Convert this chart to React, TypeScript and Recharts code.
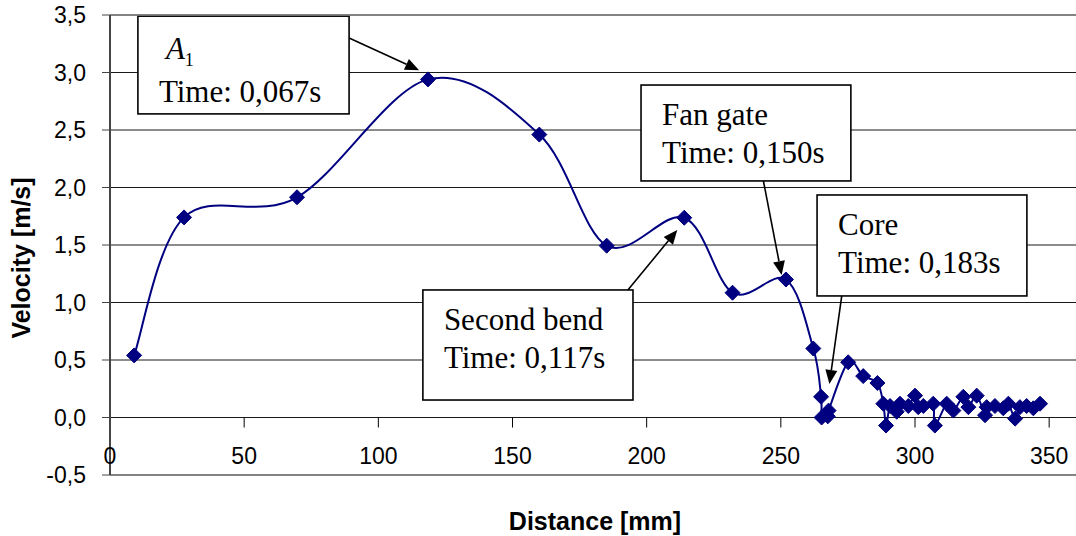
import React from 'react';
import {
  LineChart, Line, XAxis, YAxis, CartesianGrid, ReferenceLine, ReferenceArea, Customized,
} from 'recharts';

// ---------- data ----------
const distance = [
  9, 27.6, 69.7, 118.5, 160, 185.1, 214, 232, 251.9, 262.1,
  265, 265.2, 267.5, 267.8, 275.1, 280.7, 286, 288.2, 289.2, 290.7,
  293.2, 294.4, 297.5, 300, 301.2, 303.1, 306.8, 307.4, 311.8, 314.3,
  318, 319.9, 323, 326.1, 326.7, 329.8, 332.9, 334.8, 337.3, 339.1,
  341.6, 344.1, 346.6,
];
const velocity = [
  0.54, 1.74, 1.915, 2.94, 2.46, 1.494, 1.737, 1.085, 1.2, 0.6,
  0.18, 0.0, 0.01, 0.06, 0.48, 0.36, 0.3, 0.12, -0.07, 0.1,
  0.05, 0.12, 0.1, 0.19, 0.09, 0.1, 0.12, -0.07, 0.12, 0.06,
  0.18, 0.09, 0.19, 0.02, 0.09, 0.1, 0.08, 0.12, -0.01, 0.09,
  0.1, 0.08, 0.12,
];
const xTicks = [0, 50, 100, 150, 200, 250, 300, 350];
const yTicks = [-0.5, 0, 0.5, 1, 1.5, 2, 2.5, 3, 3.5];
const xTitle = 'Distance [mm]';
const yTitle = 'Velocity [m/s]';

// annotation texts (data-unit anchors for boxes and arrows)
const annotations = [
  { title: 'A', sub: '1', time: 'Time: 0,067s', box: [10.4, 89.1, 2.64, 3.49], arrow: [[89.1, 3.3], [115.2, 3.02]] },
  { title: 'Fan gate', sub: '', time: 'Time: 0,150s', box: [197.9, 276.1, 2.057, 2.891], arrow: [[243.5, 2.057], [250.3, 1.239]] },
  { title: 'Core', sub: '', time: 'Time: 0,183s', box: [263.5, 341.7, 1.057, 1.935], arrow: [[272.7, 1.057], [268.1, 0.291]] },
  { title: 'Second bend', sub: '', time: 'Time: 0,117s', box: [116.6, 194.9, 0.152, 1.109], arrow: [[193.0, 1.109], [211.4, 1.63]] },
];

const rows = distance.map((d, i) => ({ x: d, v: velocity[i] }));

// ---------- layout ----------
const W = 1076;
const H = 536;
const PLOT_TOP = 15;
const PLOT_BOTTOM = 475;
const Y_MIN = -0.5;
const Y_MAX = 3.5;
const ZERO_Y = PLOT_TOP + ((PLOT_BOTTOM - PLOT_TOP) * (Y_MAX - 0)) / (Y_MAX - Y_MIN);
const SANS = '"Liberation Sans", Arial, Helvetica, sans-serif';
const SERIF = '"Liberation Serif", "Times New Roman", Times, serif';
const NAVY = '#000080';

// Excel-like smoothed line (Catmull-Rom through all points)
function excelSmooth(context: any) {
  let pts: number[][] = [];
  return {
    areaStart() {},
    areaEnd() {},
    lineStart() { pts = []; },
    lineEnd() {
      const n = pts.length;
      if (n === 0) return;
      context.moveTo(pts[0][0], pts[0][1]);
      for (let i = 0; i < n - 1; i++) {
        const p0 = pts[i > 0 ? i - 1 : 0];
        const p1 = pts[i];
        const p2 = pts[i + 1];
        const p3 = pts[i + 2 < n ? i + 2 : n - 1];
        context.bezierCurveTo(
          p1[0] + (p2[0] - p0[0]) / 6, p1[1] + (p2[1] - p0[1]) / 6,
          p2[0] - (p3[0] - p1[0]) / 6, p2[1] - (p3[1] - p1[1]) / 6,
          p2[0], p2[1],
        );
      }
    },
    point(x: number, y: number) { pts.push([+x, +y]); },
  };
}

const Diamond = (props: any) => {
  const { cx, cy, index } = props;
  if (cx == null || cy == null) return <g key={`d-${index}`} />;
  const r = 7.5;
  return (
    <polygon
      key={`d-${index}`}
      points={`${cx},${cy - r} ${cx + r},${cy} ${cx},${cy + r} ${cx - r},${cy}`}
      fill={NAVY}
      stroke={NAVY}
      strokeWidth={1}
    />
  );
};

const XTick = (props: any) => {
  const { x, payload } = props;
  return (
    <g>
      {payload.value !== 0 && (
        <line x1={x} x2={x} y1={ZERO_Y} y2={ZERO_Y + 10} stroke="#000" strokeWidth={1} />
      )}
      <text x={x} y={ZERO_Y + 46} textAnchor="middle" fontFamily={SANS} fontSize={23} fill="#000">
        {payload.value}
      </text>
    </g>
  );
};

const makeBoxShape = (a: any) => (props: any) => {
  const { x, y, width, height } = props;
  if (x == null) return <g />;
  const hasSub = !!a.sub;
  const line1 = hasSub ? 43 : 40;
  const line2 = hasSub ? 86 : 78;
  return (
    <g>
      <rect x={x} y={y} width={width} height={height} fill="#fff" stroke="#000" strokeWidth={1.6} />
      <text x={x + (hasSub ? 28 : 21)} y={y + line1} fontFamily={SERIF} fontSize={31} fill="#000">
        {hasSub ? (
          <>
            <tspan fontStyle="italic">{a.title}</tspan>
            <tspan fontSize={18} dy={7}>{a.sub}</tspan>
          </>
        ) : (
          a.title
        )}
      </text>
      <text x={x + 21} y={y + line2} fontFamily={SERIF} fontSize={31} fill="#000">
        {a.time}
      </text>
    </g>
  );
};

const ArrowShape = (props: any) => {
  const { x1, y1, x2, y2 } = props;
  if (x1 == null || x2 == null) return <g />;
  const dx = x2 - x1;
  const dy = y2 - y1;
  const len = Math.sqrt(dx * dx + dy * dy) || 1;
  const ux = dx / len;
  const uy = dy / len;
  const hl = 14;
  const hw = 6;
  const bx = x2 - ux * hl;
  const by = y2 - uy * hl;
  const px = -uy * hw;
  const py = ux * hw;
  return (
    <g>
      <line x1={x1} y1={y1} x2={bx} y2={by} stroke="#000" strokeWidth={1.6} />
      <polygon points={`${x2},${y2} ${bx + px},${by + py} ${bx - px},${by - py}`} fill="#000" />
    </g>
  );
};

const Titles = () => (
  <g>
    <text x={595} y={530} textAnchor="middle" fontFamily={SANS} fontWeight="bold" fontSize={25} fill="#000">
      {xTitle}
    </text>
    <text
      x={0}
      y={0}
      transform={`translate(30, 258) rotate(-90)`}
      textAnchor="middle"
      fontFamily={SANS}
      fontWeight="bold"
      fontSize={25}
      fill="#000"
    >
      {yTitle}
    </text>
  </g>
);

export default function App() {
  return (
    <div style={{ position: 'absolute', left: 0, top: 0, width: W, height: H, background: '#fff' }}>
      <LineChart width={W} height={H} data={rows} margin={{ top: PLOT_TOP, right: 0, bottom: 0, left: 0 }}>
        <CartesianGrid horizontal vertical={false} stroke="#1a1a1a" strokeWidth={1} />
        <XAxis
          dataKey="x"
          type="number"
          domain={[0, 360]}
          ticks={xTicks}
          interval={0}
          height={H - PLOT_BOTTOM}
          axisLine={false}
          tickLine={false}
          tickSize={0}
          tick={<XTick />}
        />
        <YAxis
          dataKey="v"
          type="number"
          domain={[Y_MIN, Y_MAX]}
          ticks={yTicks}
          interval={0}
          width={110}
          axisLine={{ stroke: '#444', strokeWidth: 2 }}
          tickLine={{ stroke: '#444', strokeWidth: 1 }}
          tickSize={8}
          tickMargin={16}
          tick={{ fill: '#000', fontSize: 23, fontFamily: SANS }}
          tickFormatter={(v: number) => v.toFixed(1).replace('.', ',')}
        />
        <ReferenceLine y={Y_MAX} stroke="#808080" strokeWidth={1.5} />
        <ReferenceLine y={Y_MIN} stroke="#808080" strokeWidth={1.5} />
        {annotations.map((a, i) => (
          <ReferenceArea
            key={`box-${i}`}
            x1={a.box[0]}
            x2={a.box[1]}
            y1={a.box[2]}
            y2={a.box[3]}
            shape={makeBoxShape(a)}
          />
        ))}
        {annotations.map((a, i) => (
          <ReferenceLine
            key={`arrow-${i}`}
            segment={[{ x: a.arrow[0][0], y: a.arrow[0][1] }, { x: a.arrow[1][0], y: a.arrow[1][1] }]}
            shape={ArrowShape}
          />
        ))}
        <Line
          dataKey="v"
          type={excelSmooth as any}
          stroke={NAVY}
          strokeWidth={2}
          dot={Diamond}
          activeDot={false}
          isAnimationActive={false}
        />
        <Customized component={Titles} />
      </LineChart>
    </div>
  );
}
